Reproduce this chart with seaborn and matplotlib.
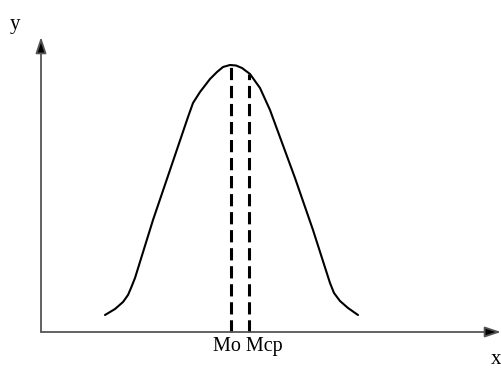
import matplotlib
matplotlib.use("Agg")
import matplotlib.pyplot as plt
import seaborn as sns
import pandas as pd

sns.set_theme(style="white")
plt.rcParams['font.family'] = ['Liberation Serif', 'DejaVu Serif']

# Hand-traced skewed bell curve
curve_x = [64, 74, 82, 87, 90, 94, 112, 129, 147, 152, 159, 169, 176, 182,
           189, 195, 201, 209, 219, 229, 254, 272, 289, 293, 299, 307, 317]
curve_y = [17, 23, 30, 37, 44, 54, 112, 162, 215, 229, 240, 253, 260, 265,
           267, 266.5, 264, 258, 244, 222, 154, 102, 49, 39, 31, 24, 17]

# Mode and mean positions with the curve height at each
marker_names = ["Mo", "Mcp"]
marker_x = [190, 208]
marker_top = [267, 258]

df = pd.DataFrame({"x": curve_x, "y": curve_y})

fig = plt.figure(figsize=(5.02, 3.69), dpi=100)
ax = fig.add_axes([0, 0, 1, 1])
ax.set_xlim(-41, 461)
ax.set_ylim(-37, 332)
ax.axis("off")

sns.lineplot(data=df, x="x", y="y", sort=False, color="black", lw=1.5, ax=ax)

for mx, mt in zip(marker_x, marker_top):
    ax.plot([mx, mx], [0, mt], color="black", lw=2.2, ls=(0, (4, 1.9)),
            solid_capstyle="butt")

# Coordinate axes with arrow heads
arrow = dict(arrowstyle="-|>,head_length=0.75,head_width=0.25", lw=1.3,
             mutation_scale=13, shrinkA=0, shrinkB=0, fc="black", ec="#555555")
ax.annotate("", xy=(460, 0), xytext=(0, 0), arrowprops=arrow)
ax.annotate("", xy=(0, 295), xytext=(0, 0), arrowprops=arrow)

ax.text(-26, 307, "y", fontsize=15, ha="center", va="center", color="black")
ax.text(455, -28, "x", fontsize=15, ha="center", va="center", color="black")
ax.text(207, -19, " ".join(marker_names), fontsize=14.5, ha="center",
        va="baseline", color="black")

fig.savefig("out.png", dpi=100)
